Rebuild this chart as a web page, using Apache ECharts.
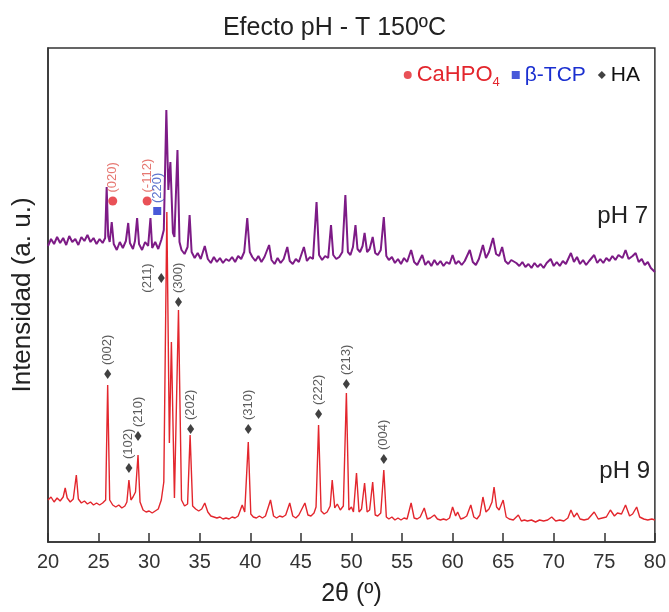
<!DOCTYPE html>
<html><head><meta charset="utf-8">
<script src="https://cdn.jsdelivr.net/npm/echarts@6/dist/echarts.min.js"></script>
<style>html,body{margin:0;padding:0;background:#fff}#c{width:669px;height:612px}</style>
</head><body><div id="c"></div>
<script>
// 2θ (º) range / ticks
const xMin = 20, xMax = 80, xStep = 5;

// pH 7 pattern (arbitrary intensity units, offset trace)
const pH7 = [
[20.0,296],[20.3,303],[20.6,298],[20.9,305],[21.2,299],[21.5,304],[21.8,297],[22.1,306],[22.4,300],[22.7,303],[23.0,297],[23.3,305],[23.6,301],[23.9,307],[24.2,300],[24.5,304],[24.8,298],[25.1,303],[25.4,299],[25.65,304],
[25.8,355],[25.95,306],[26.1,300],[26.3,320],[26.5,298],[26.8,292],[27.1,300],[27.4,294],[27.7,301],[27.93,319],[28.1,299],[28.4,293],[28.6,301],[28.81,324],[29.0,298],[29.3,292],[29.6,300],[29.9,296],[30.13,324],[30.3,294],[30.6,300],[30.9,293],[31.2,302],[31.45,312],
[31.7,432],[31.9,352],[32.1,380],[32.35,309],[32.5,305],[32.8,392],[33.0,300],[33.2,292],[33.5,288],[33.8,295],[34.0,327],[34.2,290],[34.5,284],[34.8,289],[35.1,283],[35.5,296],[35.8,283],[36.1,279],[36.4,285],[36.7,280],[37.0,284],[37.3,279],[37.6,283],[37.9,281],[38.2,285],[38.5,280],[38.8,286],[39.1,283],[39.4,290],[39.7,324],[39.95,290],[40.2,285],[40.5,281],[40.8,286],[41.1,280],[41.4,285],[41.86,297],[42.1,282],[42.4,278],[42.7,284],[43.0,279],[43.3,283],[43.66,295],[43.9,281],[44.2,278],[44.5,283],[44.8,280],[45.3,295],[45.6,281],[45.9,285],[46.2,283],
[46.55,340],[46.8,287],[47.1,282],[47.4,286],[47.7,284],[47.98,317],[48.2,287],[48.5,283],[48.8,285],[49.1,290],[49.4,347],[49.65,290],[49.9,287],[50.15,295],[50.4,317],[50.6,293],[50.85,290],[51.1,296],[51.3,309],[51.55,290],[51.8,293],[52.1,305],[52.35,289],[52.6,287],[52.9,292],[53.2,325],[53.45,286],[53.7,282],[54.0,285],[54.3,279],[54.6,283],[54.9,278],[55.2,284],[55.5,280],[55.9,292],[56.2,280],[56.5,277],[57.0,287],[57.3,277],[57.6,281],[57.9,276],[58.2,282],[58.5,277],[58.8,281],[59.1,276],[59.4,280],[59.7,278],
[60.0,287],[60.3,278],[60.6,281],[60.9,277],[61.2,281],[61.7,292],[62.0,280],[62.3,277],[62.6,283],[63.0,297],[63.3,284],[63.6,290],[64.0,304],[64.3,288],[64.6,286],[64.9,295],[65.2,281],[65.5,278],[65.8,282],[66.3,279],[66.6,276],[66.9,280],[67.2,275],[67.5,278],[67.8,274],[68.1,279],[68.4,275],[68.7,278],[69.0,274],[69.3,279],[69.7,283],[70.0,276],[70.3,280],[70.6,276],[70.9,281],[71.2,278],[71.7,289],[72.0,280],[72.3,285],[72.6,278],[72.9,282],[73.2,277],[73.5,281],[74.0,287],[74.3,279],[74.6,283],[74.9,279],[75.2,284],[75.5,281],[75.8,286],[76.1,282],[76.4,287],[76.8,284],[77.1,292],[77.4,283],[77.8,286],[78.1,289],[78.4,280],[78.7,283],[79.0,277],[79.3,280],[79.6,274],[80.0,270]
];

// pH 9 pattern
const pH9 = [
[20.0,42],[20.3,45],[20.6,40],[20.9,44],[21.2,41],[21.5,45],[21.7,54],[21.9,44],[22.2,40],[22.5,43],[22.8,67],[23.0,43],[23.3,39],[23.6,41],[23.9,38],[24.2,40],[24.5,37],[24.8,39],[25.1,37],[25.4,39],[25.7,42],
[25.9,157],[26.1,42],[26.4,37],[26.7,35],[27.0,37],[27.3,34],[27.6,36],[27.8,40],[28.0,62],[28.2,42],[28.4,45],[28.65,50],[28.9,87],[29.1,40],[29.4,32],[29.7,30],[30.0,31],[30.3,29],[30.6,31],[30.9,33],[31.2,42],[31.45,60],
[31.75,330],[32.0,99],[32.2,200],[32.5,44],[32.9,232],[33.2,42],[33.5,36],[33.8,38],[34.05,107],[34.3,36],[34.6,33],[34.9,31],[35.2,33],[35.5,39],[35.8,30],[36.1,26],[36.4,25],[36.7,24],[37.0,25],[37.3,23],[37.6,24],[37.9,23],[38.2,25],[38.5,24],[38.8,26],[39.2,37],[39.45,30],
[39.8,100],[40.05,28],[40.3,25],[40.6,24],[40.9,26],[41.2,24],[41.5,26],[42.0,42],[42.3,26],[42.6,24],[42.9,26],[43.2,25],[43.5,27],[43.9,39],[44.2,26],[44.5,24],[44.8,27],[45.4,39],[45.7,27],[46.0,26],[46.3,29],[46.5,35],
[46.75,117],[47.0,31],[47.3,28],[47.6,30],[47.9,36],[48.1,62],[48.35,34],[48.6,38],[48.9,32],[49.2,36],[49.5,149],[49.75,32],[50.0,35],[50.2,30],[50.5,69],[50.75,30],[51.0,33],[51.3,59],[51.55,30],[51.8,32],[52.1,60],[52.35,27],[52.6,26],[52.9,29],[53.2,72],[53.45,25],[53.7,23],[54.0,25],[54.3,22],[54.6,24],[54.9,22],[55.2,24],[55.5,23],[55.9,39],[56.2,24],[56.5,23],[56.8,25],[57.2,34],[57.5,23],[57.8,24],[58.2,27],[58.5,23],[58.8,22],[59.1,23],[59.4,22],[59.7,24],
[60.0,35],[60.3,26],[60.5,30],[60.8,23],[61.1,24],[61.4,26],[61.8,37],[62.1,25],[62.4,23],[62.7,27],[63.0,45],[63.3,30],[63.6,33],[63.9,40],[64.1,55],[64.35,35],[64.6,32],[65.0,42],[65.3,25],[65.6,23],[66.0,22],[66.5,27],[66.8,21],[67.1,22],[67.4,21],[67.8,22],[68.2,20],[68.6,22],[69.0,21],[69.4,22],[69.8,25],[70.2,21],[70.6,22],[71.0,21],[71.4,24],[71.7,32],[72.0,25],[72.3,29],[72.6,23],[73.0,22],[73.4,23],[74.0,30],[74.4,23],[74.8,24],[75.2,25],[75.6,32],[76.0,26],[76.3,29],[76.7,28],[77.1,37],[77.5,26],[77.8,28],[78.2,35],[78.5,25],[78.9,23],[79.3,22],[79.7,23],[80.0,22]
];

// Peak markers
const haLabels = ['(002)','(102)','(210)','(211)','(300)','(202)','(310)','(222)','(213)','(004)'];
const haX = [25.9, 28.0, 28.9, 31.2, 32.9, 34.1, 39.8, 46.75, 49.5, 53.2];
const haY = [168, 74, 106, 264, 240, 113, 113, 128, 158, 83];
const caLabels = ['(020)','(-112)'];
const caX = [26.4, 29.8];
const caY = [341, 341];
const tcpLabels = ['(220)'];
const tcpX = [30.8];
const tcpY = [331];

const FONT = "'Liberation Sans', Arial, sans-serif";
const RED = '#e3262d', PURPLE = '#7d1b86', BLUE = '#1a2fd0';

function pts(xs, ys, labels) {
  return xs.map((x, i) => ({ value: [x, ys[i]], name: labels[i] }));
}
const haData = pts(haX, haY, haLabels);
// (211) label sits to the left of its marker
haData[3].label = { position: 'left', align: 'center', verticalAlign: 'bottom', distance: 4 };

const peakLabel = (color) => ({
  show: true, formatter: '{b}', rotate: 90, position: 'top', align: 'left',
  verticalAlign: 'middle', distance: 4, fontSize: 13, color: color, fontFamily: FONT
});

const chart = echarts.init(document.getElementById('c'), null, { renderer: 'canvas' });
chart.setOption({
  animation: false,
  backgroundColor: '#fff',
  title: {
    text: 'Efecto pH - T 150ºC', left: 'center', top: 11,
    textStyle: { fontSize: 25, fontWeight: 'normal', color: '#222', fontFamily: FONT }
  },
  legend: {
    right: 24, top: 59, itemWidth: 8, itemHeight: 8, itemGap: 12,
    data: [
      { name: 'CaHPO4', textStyle: { color: RED } },
      { name: 'β-TCP', textStyle: { color: BLUE } },
      { name: 'HA', textStyle: { color: '#111' } }
    ],
    formatter: function (n) { return n === 'CaHPO4' ? '{m|CaHPO}{s|4}' : n; },
    textStyle: {
      fontSize: 21, fontFamily: FONT,
      rich: {
        m: { fontSize: 22, color: RED, fontFamily: FONT },
        s: { fontSize: 13, color: RED, fontFamily: FONT, padding: [14, 0, 0, 0] }
      }
    }
  },
  grid: { left: 48, right: 12, top: 48, bottom: 70, show: true, borderColor: '#333', borderWidth: 1.5, backgroundColor: 'transparent' },
  xAxis: {
    type: 'value', min: xMin, max: xMax, interval: xStep,
    name: '2θ (º)', nameLocation: 'middle', nameGap: 40,
    nameTextStyle: { fontSize: 25, color: '#222', fontFamily: FONT },
    axisLine: { lineStyle: { color: '#333', width: 1.5 } },
    axisTick: { inside: true, length: 9, lineStyle: { color: '#333', width: 1.5 } },
    axisLabel: { fontSize: 20, color: '#333', margin: 10, fontFamily: FONT },
    splitLine: { show: false }
  },
  yAxis: {
    type: 'value', min: 0, max: 494,
    name: 'Intensidad (a. u.)', nameLocation: 'middle', nameGap: 12,
    nameTextStyle: { fontSize: 26, color: '#222', fontFamily: FONT },
    axisLine: { show: true, lineStyle: { color: '#333', width: 1.5 } },
    axisTick: { show: false }, axisLabel: { show: false }, splitLine: { show: false }
  },
  series: [
    { name: 'pH 9', type: 'line', data: pH9, symbol: 'none', lineStyle: { color: RED, width: 1.4 }, itemStyle: { color: RED }, z: 2 },
    { name: 'pH 7', type: 'line', data: pH7, symbol: 'none', lineStyle: { color: PURPLE, width: 2 }, itemStyle: { color: PURPLE }, z: 3 },
    { name: 'HA', type: 'scatter', data: haData, symbol: 'diamond', symbolSize: [7, 10], itemStyle: { color: '#111' }, label: peakLabel('#333'), z: 5 },
    { name: 'CaHPO4', type: 'scatter', data: pts(caX, caY, caLabels), symbol: 'circle', symbolSize: 9, itemStyle: { color: RED }, label: peakLabel('#e0564f'), z: 5 },
    { name: 'β-TCP', type: 'scatter', data: pts(tcpX, tcpY, tcpLabels), symbol: 'rect', symbolSize: 8, itemStyle: { color: BLUE }, label: peakLabel('#3450c0'), z: 5 }
  ],
  graphic: [
    { type: 'text', right: 21, top: 204, style: { text: 'pH 7', fontSize: 24, fill: '#222', fontFamily: FONT } },
    { type: 'text', right: 19, top: 459, style: { text: 'pH 9', fontSize: 24, fill: '#222', fontFamily: FONT } }
  ]
});
</script>
</body></html>
